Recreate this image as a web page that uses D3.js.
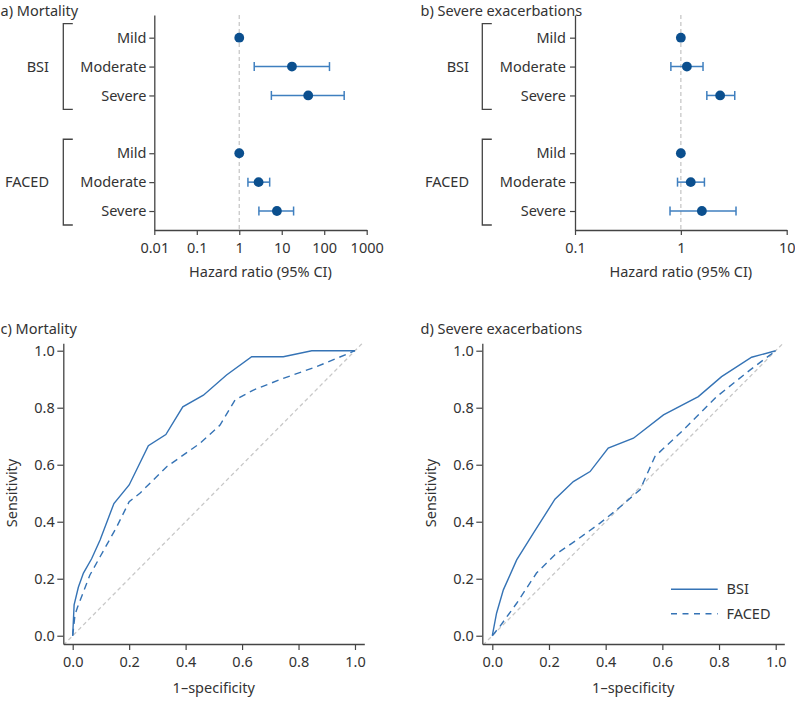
<!DOCTYPE html>
<html><head><meta charset="utf-8">
<script src="https://cdn.jsdelivr.net/npm/d3@7"></script>
<style>
body{margin:0;background:#fff;}
svg{display:block;font-family:"Noto Sans",sans-serif;}
</style></head>
<body>
<svg id="chart" width="795" height="701"></svg>
<script>
// ---------- DATA ----------
const groups = ["BSI", "FACED"];
const severities = ["Mild", "Moderate", "Severe"];
// Mortality hazard ratios (BSI mild, mod, sev, FACED mild, mod, sev)
const mortHR  = [1, 17.4, 42, 1, 2.85, 7.7];
const mortLo  = [null, 2.25, 5.7, null, 1.6, 2.9];
const mortHi  = [null, 133, 295, null, 5.2, 19];
// Severe exacerbations hazard ratios
const exaHR   = [1, 1.14, 2.35, 1, 1.24, 1.58];
const exaLo   = [null, 0.805, 1.76, null, 0.93, 0.79];
const exaHi   = [null, 1.62, 3.23, null, 1.67, 3.32];
const mortTicks = [0.01, 0.1, 1, 10, 100, 1000];
const exaTicks  = [0.1, 1, 10];
// ROC curves: [1-specificity, sensitivity]
const rocMortBSI = [[0,0],[0.005,0.108],[0.02,0.17],[0.038,0.22],[0.067,0.27],[0.097,0.336],[0.146,0.464],[0.2,0.529],[0.268,0.667],[0.33,0.706],[0.39,0.803],[0.463,0.844],[0.545,0.915],[0.634,0.979],[0.746,0.979],[0.847,1.0],[1,1]];
const rocMortFACED = [[0,0],[0.008,0.073],[0.017,0.10],[0.061,0.213],[0.097,0.277],[0.156,0.382],[0.2,0.47],[0.238,0.5],[0.333,0.593],[0.451,0.675],[0.522,0.739],[0.575,0.827],[0.64,0.862],[0.746,0.903],[0.864,0.944],[1,1]];
const rocExaBSI = [[0,0],[0.015,0.079],[0.039,0.161],[0.086,0.266],[0.145,0.36],[0.221,0.479],[0.286,0.541],[0.345,0.576],[0.409,0.658],[0.498,0.693],[0.604,0.775],[0.727,0.839],[0.809,0.909],[0.915,0.977],[1,1]];
const rocExaFACED = [[0,0],[0.027,0.033],[0.086,0.114],[0.156,0.22],[0.221,0.284],[0.298,0.336],[0.38,0.395],[0.439,0.442],[0.521,0.512],[0.574,0.629],[0.674,0.722],[0.792,0.839],[0.909,0.932],[1,1]];
const rocTicks = [0, 0.2, 0.4, 0.6, 0.8, 1.0];

// ---------- STYLE ----------
const txt = "#333";
const axisCol = "#444";
const dotCol = "#0b4f8e";
const ciCol = "#3f7fbf";
const lineCol = "#3573b5";
const fs = 14.5;
const ff = "'Noto Sans',sans-serif";

const svg = d3.select("#chart");

function title(x, y, t){
  svg.append("text").attr("x", x).attr("y", y).attr("font-size", fs).attr("fill", txt).text(t);
}

// ---------- FOREST PANELS ----------
function forest(opt){
  const {x0, x1, domain, ticks, hr, lo, hi, bracketX, labelRight, groupRight} = opt;
  const g = svg.append("g");
  const x = d3.scaleLog().domain(domain).range([x0, x1]);
  const rowPos = [0,1,2,4,5,6];
  const y = d3.scaleLinear().domain([-0.785, 6.657]).range([15, 230]);
  g.append("line").attr("x1", x(1)).attr("x2", x(1)).attr("y1", y(-0.785)).attr("y2", y(6.657))
    .attr("stroke", "#c8c8c8").attr("stroke-width", 1.3).attr("stroke-dasharray", "4,3");
  const xa = g.append("g").attr("transform", `translate(0,${y(6.657)})`)
    .call(d3.axisBottom(x).tickValues(ticks).tickFormat(d => String(d)).tickSize(5).tickSizeOuter(0));
  const ya = g.append("g").attr("transform", `translate(${x0},0)`)
    .call(d3.axisLeft(y).tickValues(rowPos).tickFormat((d,i) => severities[i % 3]).tickSize(5).tickSizeOuter(0));
  [xa, ya].forEach(a => {
    a.select(".domain").attr("stroke", axisCol).attr("stroke-width", 1.3);
    a.selectAll(".tick line").attr("stroke", axisCol).attr("stroke-width", 1.2);
    a.selectAll(".tick text").attr("fill", txt).attr("font-size", fs).attr("font-family", ff);
  });
  xa.selectAll(".tick text").attr("dy", "1.0em");
  ya.selectAll(".tick text").attr("x", labelRight - x0);
  groups.forEach((gr, gi) => {
    const top = y(rowPos[gi*3]) - 14, bot = y(rowPos[gi*3+2]) + 14;
    g.append("path").attr("d", `M${bracketX+9.5},${top}H${bracketX}V${bot}H${bracketX+9.5}`)
      .attr("fill", "none").attr("stroke", axisCol).attr("stroke-width", 1.3);
    g.append("text").attr("x", groupRight).attr("y", y(rowPos[gi*3+1])).attr("dy", "0.35em")
      .attr("text-anchor", "end").attr("font-size", fs).attr("fill", txt).text(gr);
  });
  rowPos.forEach((p, i) => {
    if (lo[i] == null) return;
    const yy = y(p);
    g.append("line").attr("x1", x(lo[i])).attr("x2", x(hi[i])).attr("y1", yy).attr("y2", yy).attr("stroke", ciCol).attr("stroke-width", 1.5);
    [lo[i], hi[i]].forEach(v => g.append("line").attr("x1", x(v)).attr("x2", x(v)).attr("y1", yy-4.5).attr("y2", yy+4.5).attr("stroke", ciCol).attr("stroke-width", 1.5));
  });
  g.selectAll("circle.pt").data(rowPos).enter().append("circle")
    .attr("cx", (d,i) => x(hr[i])).attr("cy", d => y(d)).attr("r", 4.9).attr("fill", dotCol);
  g.append("text").attr("x", (x0+x1)/2).attr("y", 272).attr("dy", "0.35em").attr("text-anchor", "middle")
    .attr("font-size", fs).attr("fill", txt).text("Hazard ratio (95% CI)");
}

forest({x0:154.3, x1:366.7, domain:[0.01,1000], ticks:mortTicks, hr:mortHR, lo:mortLo, hi:mortHi, bracketX:63.3, labelRight:146.5, groupRight:49});
forest({x0:575, x1:786.7, domain:[0.1,10], ticks:exaTicks, hr:exaHR, lo:exaLo, hi:exaHi, bracketX:482.3, labelRight:566, groupRight:469});
title(0.5, 15.5, "a) Mortality");
title(420.5, 15.5, "b) Severe exacerbations");

// ---------- ROC PANELS ----------
function roc(opt){
  const {x0, x1, xdom, bsi, faced, legend} = opt;
  const g = svg.append("g");
  const x = d3.scaleLinear().domain(xdom).range([x0, x1]);
  const y = d3.scaleLinear().domain([-0.029, 1.026]).range([644, 343.3]);
  const cid = "clip" + Math.round(x0);
  svg.append("clipPath").attr("id", cid).append("rect").attr("x", x0).attr("y", 343.3).attr("width", x1-x0).attr("height", 644-343.3);
  g.append("line").attr("clip-path", `url(#${cid})`).attr("x1", x(-0.05)).attr("y1", y(-0.05)).attr("x2", x(1.05)).attr("y2", y(1.05))
    .attr("stroke", "#c8c8c8").attr("stroke-width", 1.3).attr("stroke-dasharray", "4,3");
  const xa = g.append("g").attr("transform", "translate(0,644)")
    .call(d3.axisBottom(x).tickValues(rocTicks).tickFormat(d3.format(".1f")).tickSize(6).tickSizeOuter(0));
  const ya = g.append("g").attr("transform", `translate(${x0},0)`)
    .call(d3.axisLeft(y).tickValues(rocTicks).tickFormat(d3.format(".1f")).tickSize(6).tickSizeOuter(0));
  [xa, ya].forEach(a => {
    a.select(".domain").attr("stroke", axisCol).attr("stroke-width", 1.3);
    a.selectAll(".tick line").attr("stroke", axisCol).attr("stroke-width", 1.2);
    a.selectAll(".tick text").attr("fill", txt).attr("font-size", fs).attr("font-family", ff);
  });
  xa.selectAll(".tick text").attr("dy", "0.95em");
  ya.selectAll(".tick text").attr("x", -8.5);
  const line = d3.line().x(d => x(d[0])).y(d => y(d[1]));
  g.append("path").datum(bsi).attr("d", line).attr("fill", "none").attr("stroke", lineCol).attr("stroke-width", 1.4);
  g.append("path").datum(faced).attr("d", line).attr("fill", "none").attr("stroke", lineCol).attr("stroke-width", 1.4).attr("stroke-dasharray", "7,5");
  g.append("text").attr("x", (x0+x1)/2).attr("y", 688).attr("dy", "0.35em").attr("text-anchor", "middle")
    .attr("font-size", fs).attr("fill", txt).text("1–specificity");
  g.append("text").attr("transform", `translate(${x0-51},493) rotate(-90)`).attr("dy", "0.35em").attr("text-anchor", "middle")
    .attr("font-size", fs).attr("fill", txt).text("Sensitivity");
  if (legend) {
    const lg = [["BSI", null], ["FACED", "7,5"]];
    lg.forEach((l, i) => {
      const yy = 589.3 + i*24.5;
      const ln = g.append("line").attr("x1", 671).attr("x2", 717.7).attr("y1", yy).attr("y2", yy).attr("stroke", lineCol).attr("stroke-width", 1.4);
      if (l[1]) ln.attr("stroke-dasharray", "6,5.5");
      g.append("text").attr("x", 726.5).attr("y", yy).attr("dy", "0.35em").attr("font-size", fs).attr("fill", txt).text(l[0]);
    });
  }
}
roc({x0:63.3, x1:364.3, xdom:[-0.0333, 1.0330], bsi:rocMortBSI, faced:rocMortFACED, legend:false});
roc({x0:482.3, x1:784.3, xdom:[-0.0353, 1.0303], bsi:rocExaBSI, faced:rocExaFACED, legend:true});
title(0.5, 334, "c) Mortality");
title(420.5, 334, "d) Severe exacerbations");
</script>
</body></html>
